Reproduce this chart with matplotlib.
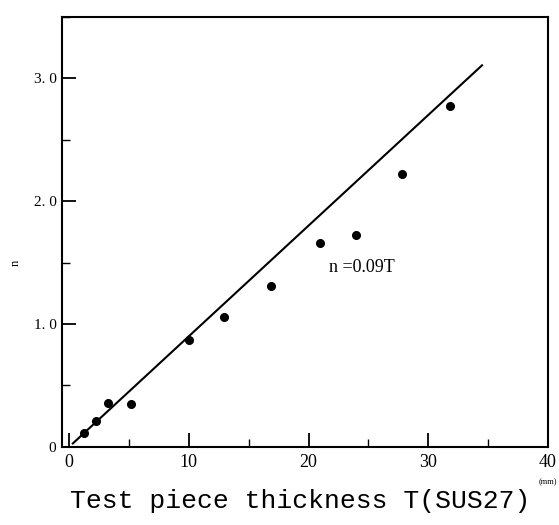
import matplotlib.pyplot as plt
import numpy as np
from matplotlib.ticker import MultipleLocator

# measured points: thickness T (mm) vs n
thickness = [1.2, 2.25, 3.2, 5.2, 10.0, 12.9, 16.9, 21.0, 24.0, 27.8, 31.8]
n_values = [0.11, 0.21, 0.36, 0.35, 0.87, 1.06, 1.31, 1.66, 1.72, 2.22, 2.77]

# fitted line n = coef * T
coef = 0.09
fit_range = [0.3, 34.5]

serif = 'Liberation Serif'
mono = 'Liberation Mono'

fig = plt.figure(figsize=(5.59, 5.25), dpi=100)
ax = fig.add_axes([0.111, 0.149, 0.869, 0.819])

t_fit = np.array(fit_range)
ax.plot(t_fit, coef * t_fit, color='black', lw=1.5)
ax.plot(thickness, n_values, 'o', color='black', ms=5.5)

ax.set_xlim(-0.6, 40)
ax.set_ylim(0, 3.5)

ax.xaxis.set_minor_locator(MultipleLocator(5))
ax.yaxis.set_minor_locator(MultipleLocator(0.5))
ax.set_xticks([0, 10, 20, 30, 40])
ax.set_xticklabels(['0', '10', '20', '30', '40'], family=serif, fontsize=13)
ax.set_yticks([0, 1, 2, 3])
ax.set_yticklabels(['0', '1. 0', '2. 0', '3. 0'], family=serif, fontsize=11)

ax.tick_params(which='major', direction='in', length=10, width=1.3, color='black')
ax.tick_params(which='minor', direction='in', length=6, width=1.0, color='black')
ax.tick_params(axis='x', pad=5)
ax.tick_params(axis='y', pad=4)
for s in ax.spines.values():
    s.set_linewidth(1.5)

ax.text(21.7, 1.42, 'n =0.09T', family=serif, fontsize=13)

fig.text(0.028, 0.5, 'n', rotation=90, family=serif, fontsize=9, va='center', ha='center')
fig.text(0.125, 0.032, 'Test piece thickness T(SUS27)', family=mono, fontsize=19)
fig.text(0.963, 0.078, '(mm)', family=serif, fontsize=6)

fig.savefig('out.png', dpi=100)
